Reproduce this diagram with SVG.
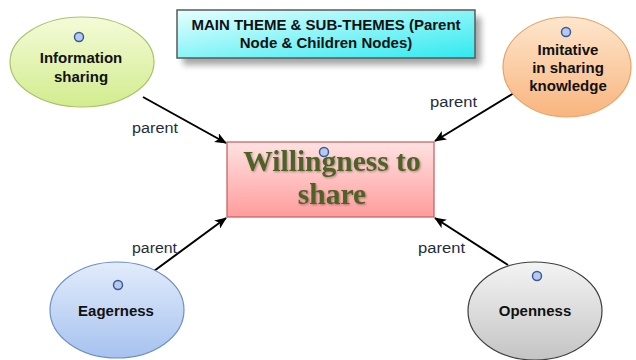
<svg xmlns="http://www.w3.org/2000/svg" width="636" height="360" viewBox="0 0 636 360">
  <defs>
    <linearGradient id="gTitle" x1="0" y1="0" x2="1" y2="1">
      <stop offset="0" stop-color="#e6ffff"/>
      <stop offset="1" stop-color="#2eeaf0"/>
    </linearGradient>
    <linearGradient id="gMain" x1="0" y1="0" x2="0" y2="1">
      <stop offset="0" stop-color="#ffe2e2"/>
      <stop offset="1" stop-color="#ff9c9c"/>
    </linearGradient>
    <linearGradient id="gGreen" x1="0" y1="0" x2="0" y2="1">
      <stop offset="0" stop-color="#f4fbd8"/>
      <stop offset="1" stop-color="#d2ec8e"/>
    </linearGradient>
    <linearGradient id="gOrange" x1="0" y1="0" x2="0" y2="1">
      <stop offset="0" stop-color="#fde6cc"/>
      <stop offset="1" stop-color="#f9b47e"/>
    </linearGradient>
    <linearGradient id="gBlue" x1="0" y1="0" x2="0" y2="1">
      <stop offset="0" stop-color="#e2ecfb"/>
      <stop offset="1" stop-color="#a6c2ef"/>
    </linearGradient>
    <linearGradient id="gGray" x1="0" y1="0" x2="0" y2="1">
      <stop offset="0" stop-color="#f4f4f4"/>
      <stop offset="1" stop-color="#c4c4c4"/>
    </linearGradient>
    <filter id="shadow" x="-10%" y="-20%" width="130%" height="160%">
      <feGaussianBlur stdDeviation="3"/>
    </filter>
    <filter id="textShadow" x="-5%" y="-20%" width="110%" height="140%">
      <feGaussianBlur in="SourceAlpha" stdDeviation="0.8"/>
      <feOffset dx="1" dy="1" result="b"/>
      <feComponentTransfer><feFuncA type="linear" slope="0.35"/></feComponentTransfer>
      <feMerge><feMergeNode/><feMergeNode in="SourceGraphic"/></feMerge>
    </filter>
    <marker id="arrow" viewBox="0 0 12 10" refX="11" refY="5" markerWidth="12" markerHeight="10" markerUnits="userSpaceOnUse" orient="auto">
      <path d="M0,0 L12,5 L0,10 L3,5 Z" fill="#000"/>
    </marker>
  </defs>
  <style>
    .node-label { font-family: "Liberation Sans", Arial, sans-serif; font-weight: bold; font-size: 15px; fill: #111; text-anchor: middle; }
    .title { font-family: "Liberation Sans", Arial, sans-serif; font-weight: bold; font-size: 15px; fill: #111; text-anchor: middle; }
    .main { font-family: "Liberation Serif", "Times New Roman", serif; font-weight: bold; font-size: 29.5px; fill: #4f6228; text-anchor: middle; }
    .edge-label { font-family: "Liberation Sans", Arial, sans-serif; font-size: 14px; fill: #1f2d3d; }
    .connector { stroke: #000; stroke-width: 2; fill: none; marker-end: url(#arrow); }
    .port { fill: #b6caee; stroke: #3a5a98; stroke-width: 1.5; }
  </style>

  <rect width="636" height="360" fill="#fff"/>

  <!-- title box with soft drop shadow -->
  <g id="title">
    <rect x="183" y="17" width="298" height="48" fill="#000" opacity="0.35" filter="url(#shadow)"/>
    <rect x="177" y="10" width="298" height="48" fill="url(#gTitle)" stroke="#5a5a5a" stroke-width="1.5"/>
    <text class="title" x="326" y="30">MAIN THEME &amp; SUB-THEMES (Parent</text>
    <text class="title" x="326" y="48">Node &amp; Children Nodes)</text>
  </g>

  <!-- connectors: every sub-theme points at the main theme -->
  <g id="connectors">
    <line class="connector" x1="143" y1="97" x2="226" y2="143"/>
    <line class="connector" x1="514" y1="93" x2="435" y2="141"/>
    <line class="connector" x1="154" y1="271" x2="226" y2="218"/>
    <line class="connector" x1="508" y1="265" x2="435" y2="218"/>
    <text class="edge-label" x="132" y="133" textLength="46" lengthAdjust="spacingAndGlyphs">parent</text>
    <text class="edge-label" x="430" y="107" textLength="47" lengthAdjust="spacingAndGlyphs">parent</text>
    <text class="edge-label" x="132" y="253" textLength="45" lengthAdjust="spacingAndGlyphs">parent</text>
    <text class="edge-label" x="418" y="253" textLength="47" lengthAdjust="spacingAndGlyphs">parent</text>
  </g>

  <!-- central node -->
  <g id="willingness">
    <rect x="227" y="142" width="207" height="75" fill="url(#gMain)" stroke="#c55a5a" stroke-width="1.2"/>
    <g filter="url(#textShadow)">
      <text class="main" x="332" y="171">Willingness to</text>
      <text class="main" x="332" y="204">share</text>
    </g>
    <circle class="port" cx="324" cy="152" r="4.5"/>
  </g>

  <g id="information-sharing">
    <ellipse cx="82" cy="62" rx="72" ry="45" fill="url(#gGreen)" stroke="#a8c46a" stroke-width="1.2"/>
    <circle class="port" cx="79" cy="37" r="4.5"/>
    <text class="node-label" x="81" y="63">Information</text>
    <text class="node-label" x="81" y="82">sharing</text>
  </g>

  <g id="imitative">
    <ellipse cx="567" cy="67" rx="64" ry="50" fill="url(#gOrange)" stroke="#e4a468" stroke-width="1.2"/>
    <circle class="port" cx="566" cy="32" r="4.5"/>
    <text class="node-label" x="568" y="55">Imitative</text>
    <text class="node-label" x="568" y="73">in sharing</text>
    <text class="node-label" x="568" y="91">knowledge</text>
  </g>

  <g id="eagerness">
    <ellipse cx="117" cy="310" rx="67" ry="48" fill="url(#gBlue)" stroke="#6e8fc4" stroke-width="1.2"/>
    <circle class="port" cx="118" cy="285" r="4.5"/>
    <text class="node-label" x="116" y="316">Eagerness</text>
  </g>

  <g id="openness">
    <ellipse cx="535" cy="311" rx="67" ry="49" fill="url(#gGray)" stroke="#3e3e3e" stroke-width="1.2"/>
    <circle class="port" cx="537" cy="276" r="4.5"/>
    <text class="node-label" x="535" y="316">Openness</text>
  </g>
</svg>
